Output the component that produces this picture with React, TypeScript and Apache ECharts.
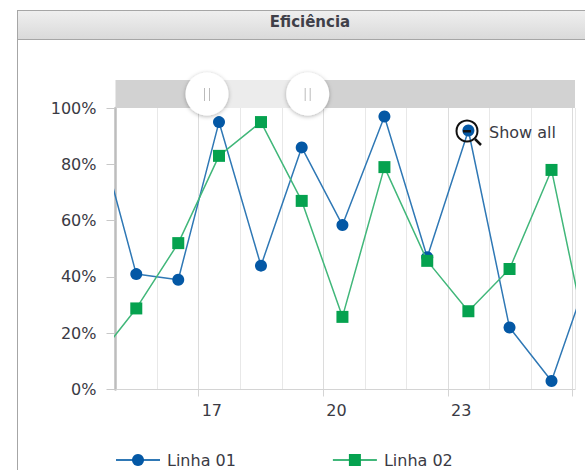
import React, { useEffect, useRef } from "react";
import * as echarts from "echarts";

const days = [14.5, 15.5, 16.51, 17.49, 18.5, 19.48, 20.46, 21.47, 22.5, 23.49, 24.48, 25.49, 26.5];
const linha01 = [96, 41, 39, 95, 44, 86, 58.4, 97, 47, 92, 22, 3, 46];
const linha02 = [10, 28.8, 52, 83, 95, 67, 25.8, 79, 45.7, 27.8, 42.8, 78, 7];
const majorTicks = [17, 20, 23, 26];
const labelledTicks = [17, 20, 23];
const title = "Eficiência";
const seriesNames = ["Linha 01", "Linha 02"];
const FONT = "'DejaVu Sans', Verdana, sans-serif";
const TEXT = "#3a3a44";

const handle = (cx: number) => [
  {
    type: "circle", z: 20, silent: true,
    shape: { cx, cy: 94, r: 21.5 },
    style: { fill: "#fff", shadowBlur: 4, shadowColor: "rgba(0,0,0,0.3)", shadowOffsetY: 1 },
  },
  { type: "line", z: 21, silent: true, shape: { x1: cx - 2.5, y1: 88, x2: cx - 2.5, y2: 101 }, style: { stroke: "#bbb", lineWidth: 1 } },
  { type: "line", z: 21, silent: true, shape: { x1: cx + 2.5, y1: 88, x2: cx + 2.5, y2: 101 }, style: { stroke: "#bbb", lineWidth: 1 } },
];

export default function App() {
  const ref = useRef<HTMLDivElement>(null);
  useEffect(() => {
    document.body.style.margin = "0";
    const chart = echarts.init(ref.current!, undefined, { renderer: "svg" });
    const xBase = { type: "value", position: "bottom", min: 15, max: 26.055 };
    chart.setOption({
      animation: false,
      backgroundColor: "#fff",
      grid: { left: 115.5, right: 10, top: 108, bottom: 80.5 },
      xAxis: [
        {
          ...xBase,
          interval: 1,
          axisLine: { show: true, lineStyle: { color: "#d4d4d4", width: 1 } },
          axisTick: { show: false },
          axisLabel: { show: false },
          splitLine: { show: true, showMinLine: false, lineStyle: { color: "#e8e8e8", width: 1 } },
        },
        {
          ...xBase,
          axisLine: { show: false },
          axisTick: { show: true, length: 7, customValues: majorTicks, lineStyle: { color: "#d4d4d4" } },
          axisLabel: {
            show: true, customValues: labelledTicks, margin: 13, align: "left", padding: [0, 0, 0, 3],
            fontFamily: FONT, fontSize: 16, color: TEXT,
          },
          splitLine: { show: true, lineStyle: { color: "#dcdcdc", width: 1 } },
        },
      ],
      yAxis: {
        type: "value", min: 0, max: 100, interval: 20,
        axisLine: { show: true, onZero: false, lineStyle: { color: "#bdbdbd", width: 2.5 } },
        axisTick: { show: true, length: 9, lineStyle: { color: "#c8c8c8" } },
        axisLabel: { margin: 19, fontFamily: FONT, fontSize: 16, color: TEXT, formatter: "{value}%" },
        splitLine: { show: false },
      },
      legend: {
        left: 110, top: 447, itemWidth: 44, itemHeight: 15, itemGap: 96,
        textStyle: { fontFamily: FONT, fontSize: 16, color: TEXT, padding: [0, 0, 0, 2] },
        data: seriesNames,
      },
      series: [
        {
          name: seriesNames[0], type: "line", clip: true, symbol: "circle", symbolSize: 12,
          data: days.map((d, i) => [d, linha01[i]]),
          itemStyle: { color: "#0458a5" },
          lineStyle: { color: "#2f78b5", width: 1.5 },
          z: 3,
        },
        {
          name: seriesNames[1], type: "line", clip: true, symbol: "rect", symbolSize: 12,
          data: days.map((d, i) => [d, linha02[i]]),
          itemStyle: { color: "#05a24f" },
          lineStyle: { color: "#41b77a", width: 1.5 },
          z: 4,
        },
      ],
      graphic: [
        { type: "rect", z: 0, silent: true, shape: { x: 18, y: 11, width: 570, height: 29 },
          style: { fill: new echarts.graphic.LinearGradient(0, 0, 0, 1, [{ offset: 0, color: "#efefef" }, { offset: 1, color: "#d9d9d9" }]) } },
        { type: "line", z: 1, silent: true, shape: { x1: 17.5, y1: 10.5, x2: 585, y2: 10.5 }, style: { stroke: "#a6a6a6", lineWidth: 1 } },
        { type: "line", z: 1, silent: true, shape: { x1: 17.5, y1: 39.5, x2: 585, y2: 39.5 }, style: { stroke: "#a6a6a6", lineWidth: 1 } },
        { type: "line", z: 1, silent: true, shape: { x1: 17.5, y1: 10, x2: 17.5, y2: 470 }, style: { stroke: "#a6a6a6", lineWidth: 1 } },
        { type: "text", z: 2, silent: true, x: 310, y: 22,
          style: { text: title, fontFamily: FONT, fontSize: 15, fontWeight: "bold", fill: "#3f3f48", align: "center", verticalAlign: "middle" } },
        { type: "rect", z: 5, silent: true, shape: { x: 115.5, y: 80, width: 459.5, height: 28 }, style: { fill: "#d2d2d2" } },
        { type: "rect", z: 6, silent: true, shape: { x: 207, y: 80, width: 101, height: 28 }, style: { fill: "#ececec" } },
        ...handle(207),
        ...handle(307.7),
        { type: "circle", z: 22, silent: true, shape: { cx: 467, cy: 131, r: 10.5 }, style: { fill: "transparent", stroke: "#111", lineWidth: 2 } },
        { type: "line", z: 22, silent: true, shape: { x1: 475, y1: 139, x2: 481, y2: 145 }, style: { stroke: "#111", lineWidth: 2.5 } },
        { type: "rect", z: 22, silent: true, shape: { x: 463, y: 130, width: 8, height: 2.5 }, style: { fill: "#111" } },
        { type: "text", z: 22, silent: true, x: 489, y: 132,
          style: { text: "Show all", fontFamily: FONT, fontSize: 16, fill: TEXT, align: "left", verticalAlign: "middle" } },
      ],
    });
    return () => chart.dispose();
  }, []);
  return <div ref={ref} style={{ width: 585, height: 470 }} />;
}
